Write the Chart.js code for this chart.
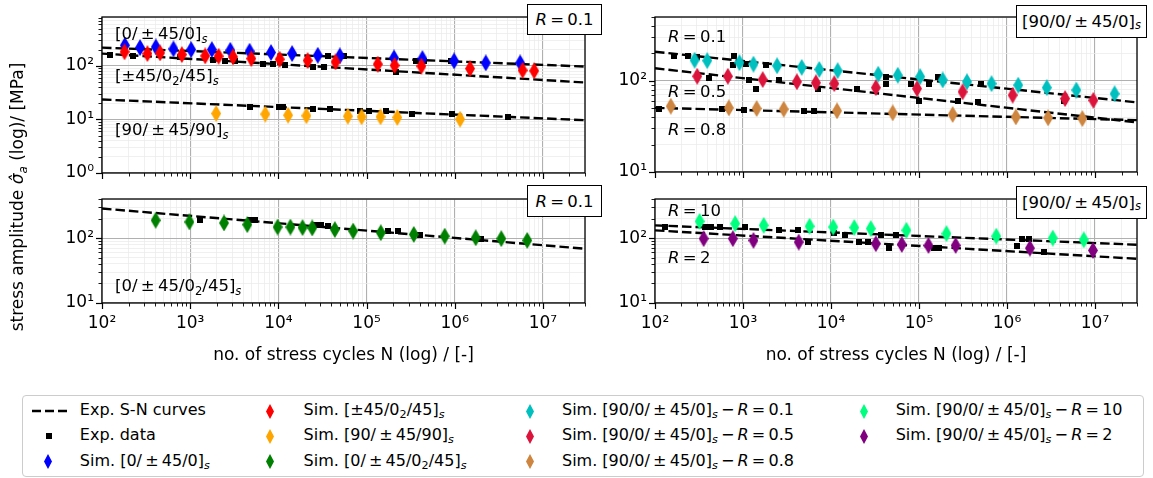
<!DOCTYPE html>
<html>
<head>
<meta charset="utf-8">
<script src="https://cdn.jsdelivr.net/npm/chart.js@4.4.0/dist/chart.umd.min.js"></script>
<style>
  body { margin:0; width:1153px; height:478px; position:relative; overflow:hidden; background:#fff; font-family:'DejaVu Sans', sans-serif; color:#000; }
  canvas { position:absolute; }
  .txt { position:absolute; white-space:nowrap; line-height:20px; font-size:16.5px; z-index:2; }
  .ax { font-size:17px; text-align:center; }
  .box { position:absolute; box-sizing:border-box; background:#fff; border:1.3px solid #000; z-index:3;
         display:flex; align-items:center; justify-content:center; font-size:16.5px; white-space:nowrap; }
  sub { font-size:0.7em; vertical-align:baseline; position:relative; top:0.3em; line-height:0; }
  #legend { position:absolute; left:22px; top:395px; width:1122px; height:82px; box-sizing:border-box;
            border:1px solid #cccccc; border-radius:4px; background:#fff; z-index:2; }
  #legend .it { position:absolute; white-space:nowrap; font-size:16px; line-height:20px; }
  #legend svg { position:absolute; overflow:visible; }
</style>
</head>
<body>
<canvas id="tl" width="600" height="185" style="left:0;top:0;width:600px;height:185px"></canvas>
<canvas id="tr" width="553" height="185" style="left:600px;top:0;width:553px;height:185px"></canvas>
<canvas id="bl" width="600" height="165" style="left:0;top:185px;width:600px;height:165px"></canvas>
<canvas id="br" width="553" height="165" style="left:600px;top:185px;width:553px;height:165px"></canvas>
<div id="legend"></div>
<script>
// ---- data (N = cycles, S = stress amplitude in MPa) ----
const curveN = [1e2, 3e7];

// top left, R = 0.1
const tlCurveA = [220, 97.5];   // [0/±45/0]s
const tlCurveB = [170, 49];     // [±45/0_2/45]s
const tlCurveC = [23.6, 9.7];   // [90/±45/90]s
const tlExp = [[123,158],[223,156],[764,147],[1820,129],[2475,124],[3220,124],[6760,108],[8780,108],[11900,104],
  [25000,96],[32500,96],[37000,156],[54800,152],[214000,77],[360000,124],[448000,124],[900000,124],
  [4800,17.2],[10070,17.2],[11200,17.2],[24600,15.8],[39000,15.7],[84000,14.3],[106000,14.3],[164000,14.3],
  [330000,12.4],[940000,12.4],[3970000,11.2]];
const tlBlue = [[182,243],[270,220],[408,226],[646,208],[1025,202],[1760,202],[2850,196],[4720,188],[8260,178],
  [14300,170],[28000,158],[49800,154],[205000,141],[430000,137],[983000,124],[2250000,114],[5520000,114]];
const tlRed = [[180,183],[327,170],[456,175],[804,163],[1480,154],[2100,152],[3060,147],[4930,137],[10350,133],
  [21500,126],[44500,119],[134000,108],[208000,102],[419000,99],[1490000,89],[5880000,83],[7960000,81]];
const tlOrange = [[1970,12.9],[7110,12.6],[12900,12.0],[20800,11.7],[61400,11.5],[87800,11.2],[144000,11.2],
  [223000,10.9],[1150000,10.1]];

// top right, [90/0/±45/0]s
const trCurve01 = [208, 58];
const trCurve05 = [137, 35];
const trCurve08 = [50.5, 37];
const trExp = [[110,49.6],[164,186],[236,186],[302,184],[410,106],[575,49.6],[787,186],[766,148],[1020,47.5],
  [1085,152],[1185,103],[1410,82],[1830,148],[2590,103],[4980,46.8],[6470,46.8],[7050,82],[20000,82],
  [42400,109],[42400,93],[81300,93],[101000,60],[131000,93],[163000,109],[275000,60],[463000,58.7],
  [506000,93],[4500000,60]];
const trCyan = [[282,168],[392,166],[912,158],[1315,152],[2440,146],[4650,140],[7360,133],[11900,129],[34400,118],
  [57400,115],[103000,111],[186000,102],[351000,97.5],[667000,93],[1340000,89.5],[2830000,84],[6140000,79],[16700000,72]];
const trCrimson = [[302,112],[673,112],[1675,103],[4100,97.5],[6740,95],[10900,93],[32300,84],[95000,82],
  [313000,75.6],[1160000,69.5],[4570000,63.8],[9570000,61]];
const trPeru = [[151,52.6],[690,50.5],[1430,49.6],[2900,48.8],[11700,46.8],[50300,44.5],[241000,42.7],
  [1260000,40.2],[2930000,39.2],[7180000,38.5]];

// bottom left, [0/±45/0_2/45]s
const blCurve = [285, 68.5];
const blExp = [[1290,193],[4760,188],[5430,188],[25900,157],[30800,157],[36700,154],[176000,128],[228000,128],
  [402000,110],[2000000,95.5]];
const blGreen = [[406,188],[980,177],[2420,171],[4440,161],[9800,148],[13700,148],[18800,145],[24200,143],
  [43700,135],[70500,128],[145000,121],[343000,114],[770000,107],[1730000,101],[3370000,98],[6640000,92]];

// bottom right, [90/0/±45/0]s, R = 10 and R = 2
const brCurve10 = [157, 79];
const brCurve2 = [131.5, 48];
const brExp = [[129,148],[372,148],[435,148],[541,148],[1040,148],[2590,131],[4180,131],[5430,86.7],[10900,121],
  [14400,113],[20900,86.7],[26000,86.7],[36800,110],[45800,71],[54500,110],[148000,71],[169000,71],
  [1490000,98],[1770000,98],[1310000,75],[2620000,60.7]];
const brSpring = [[321,181],[815,167],[1720,157],[5710,152],[10600,148],[18400,145],[28300,140],[71900,132],
  [205000,117],[755000,107],[3310000,100],[7450000,94]];
const brPurple = [[357,98],[766,98],[1315,92],[4300,86.7],[32300,81.8],[63700,79.8],[128000,77],[261000,77],
  [1820000,70],[9480000,64.6]];

// ---- helpers ----
const FONT = 'DejaVu Sans';
const SUP = {'0':'⁰','1':'¹','2':'²','3':'³','4':'⁴','5':'⁵','6':'⁶','7':'⁷','8':'⁸','9':'⁹'};
const isDecade = v => Math.abs(Math.log10(v) - Math.round(Math.log10(v))) < 1e-6;
function decadeLabel(v) {
  if (!isDecade(v)) return '';
  return '10' + String(Math.round(Math.log10(v))).split('').map(c => SUP[c]).join('');
}
function logTicks(min, max) {
  const out = [];
  for (let e = Math.floor(Math.log10(min)); e <= Math.ceil(Math.log10(max)); e++) {
    for (let m = 1; m < 10; m++) {
      const v = m * Math.pow(10, e);
      if (v >= min * 0.999 && v <= max * 1.001) out.push({value: v});
    }
  }
  return out;
}
const pts = pairs => pairs.map(p => ({x: p[0], y: p[1]}));
const curvePts = vals => curveN.map((n, i) => ({x: n, y: vals[i]}));

function diamond(color, w, h) {
  const c = document.createElement('canvas');
  c.width = w; c.height = h;
  const g = c.getContext('2d');
  g.beginPath();
  g.moveTo(w/2, 0); g.lineTo(w, h/2); g.lineTo(w/2, h); g.lineTo(0, h/2);
  g.closePath();
  g.fillStyle = color; g.fill();
  return c;
}
const SQ = (() => {
  const c = document.createElement('canvas');
  c.width = 6; c.height = 6;
  const g = c.getContext('2d'); g.fillStyle = '#000'; g.fillRect(0, 0, 6, 6);
  return c;
})();

const simSet = (pairs, color, order) => ({data: pts(pairs), pointStyle: diamond(color, 10, 17), pointRadius: 8, showLine: false, order});
const expSet = pairs => ({data: pts(pairs), pointStyle: SQ, pointRadius: 4, showLine: false, order: 5});
const curveSet = vals => ({data: curvePts(vals), showLine: true, borderColor: '#000', borderWidth: 2.4,
  borderDash: [9.5, 4], pointRadius: 0, fill: false, order: 10});

// frame + outward ticks (long on decades, short on minors)
const framePlugin = {
  id: 'frame',
  afterDraw(chart) {
    const {ctx, chartArea: a, scales} = chart;
    ctx.save();
    ctx.strokeStyle = '#000';
    scales.x.ticks.forEach(t => {
      const p = Math.round(scales.x.getPixelForValue(t.value)) + 0.5;
      const major = isDecade(t.value);
      ctx.lineWidth = major ? 1.2 : 0.9;
      ctx.beginPath(); ctx.moveTo(p, a.bottom); ctx.lineTo(p, a.bottom + (major ? 6 : 3.5)); ctx.stroke();
    });
    scales.y.ticks.forEach(t => {
      const p = Math.round(scales.y.getPixelForValue(t.value)) + 0.5;
      const major = isDecade(t.value);
      ctx.lineWidth = major ? 1.2 : 0.9;
      ctx.beginPath(); ctx.moveTo(a.left, p); ctx.lineTo(a.left - (major ? 6 : 3.5), p); ctx.stroke();
    });
    ctx.lineWidth = 1.3;
    ctx.strokeRect(a.left, a.top, a.right - a.left, a.bottom - a.top);
    ctx.restore();
  }
};

function axis(min, max, size, showLabels, isX) {
  return {
    type: 'logarithmic', min, max,
    afterBuildTicks: s => { s.ticks = logTicks(min, max); },
    afterFit: s => {
      if (isX) s.height = size; else s.width = size;
      s.paddingLeft = s.paddingRight = s.paddingTop = s.paddingBottom = 0;
    },
    grid: {
      drawTicks: false,
      color: c => (c.tick && isDecade(c.tick.value)) ? '#b0b0b0' : '#ececec',
      lineWidth: c => (c.tick && isDecade(c.tick.value)) ? 1.1 : 0.8
    },
    border: {display: false},
    ticks: {
      display: showLabels, autoSkip: false, maxRotation: 0, minRotation: 0,
      padding: isX ? 10 : 8, color: '#000', font: {family: FONT, size: 17},
      callback: v => decadeLabel(v)
    }
  };
}

function panel(id, yMin, yMax, yAxisW, xAxisH, padTop, padRight, showX, datasets) {
  new Chart(document.getElementById(id), {
    type: 'scatter',
    data: {datasets},
    options: {
      responsive: false, animation: false, devicePixelRatio: 1,
      layout: {padding: {top: padTop, right: padRight, left: 0, bottom: 0}},
      plugins: {legend: {display: false}, tooltip: {enabled: false}},
      scales: {
        x: axis(curveN[0], curveN[1], xAxisH, showX, true),
        y: axis(yMin, yMax, yAxisW, true, false)
      }
    },
    plugins: [framePlugin]
  });
}

panel('tl', 1, 820, 102, 12, 17, 15, false, [
  simSet(tlRed, '#ff0000', 1), simSet(tlOrange, '#ffa500', 2), simSet(tlBlue, '#0000ff', 3),
  expSet(tlExp), curveSet(tlCurveA), curveSet(tlCurveB), curveSet(tlCurveC)
]);
panel('tr', 10, 500, 55, 13, 17, 16, false, [
  simSet(trPeru, '#cd853f', 1), simSet(trCrimson, '#dc143c', 2), simSet(trCyan, '#00bfbf', 3),
  expSet(trExp), curveSet(trCurve01), curveSet(trCurve05), curveSet(trCurve08)
]);
panel('bl', 10, 400, 102, 47, 14, 15, true, [
  simSet(blGreen, '#008000', 1), expSet(blExp), curveSet(blCurve)
]);
panel('br', 10, 400, 55, 47, 14, 16, true, [
  simSet(brPurple, '#800080', 1), simSet(brSpring, '#00ff7f', 2),
  expSet(brExp), curveSet(brCurve10), curveSet(brCurve2)
]);

// ---- text overlays ----
const T = '\u2009';
const lay = (a, b) => '[' + a + ']<sub><i>s</i></sub>' + (b || '');
function addText(html, x, baseline, cls, extraStyle) {
  const d = document.createElement('div');
  d.className = 'txt ' + (cls || '');
  d.innerHTML = html;
  d.style.left = x + 'px';
  d.style.top = (baseline - 15.8) + 'px';
  if (extraStyle) Object.assign(d.style, extraStyle);
  document.body.appendChild(d);
  return d;
}
function addBox(html, x, y, w, h) {
  const d = document.createElement('div');
  d.className = 'box';
  d.innerHTML = html;
  Object.assign(d.style, {left: x + 'px', top: y + 'px', width: w + 'px', height: h + 'px'});
  document.body.appendChild(d);
}
const rEq = v => '<i>R</i>' + T + '=' + T + v;

addText(lay('0/' + T + '±' + T + '45/0'), 115, 40);
addText(lay('±45/0<sub>2</sub>/45'), 115, 82);
addText(lay('90/' + T + '±' + T + '45/90'), 115, 136);
addText(lay('0/' + T + '±' + T + '45/0<sub>2</sub>/45'), 115, 292);
addText(rEq('0.1'), 668, 43);
addText(rEq('0.5'), 668, 98);
addText(rEq('0.8'), 668, 136);
addText(rEq('10'), 668, 216.5);
addText(rEq('2'), 668, 264);

addBox(rEq('0.1'), 527, 4, 75, 31);
addBox(rEq('0.1'), 527, 185, 75, 32);
addBox(lay('90/0/' + T + '±' + T + '45/0'), 1016, 5, 131, 33);
addBox(lay('90/0/' + T + '±' + T + '45/0'), 1016, 186, 131, 33);

addText('no. of stress cycles N (log) / [-]', 143.5, 359.5, 'ax', {width: '400px'});
addText('no. of stress cycles N (log) / [-]', 696, 359.5, 'ax', {width: '400px'});
const yl = addText('stress amplitude <i>σ̂</i><sub><i>a</i></sub> (log)/ [MPa]', -143, 203, 'ax',
  {width: '320px', transform: 'rotate(-90deg)', transformOrigin: '50% 50%'});

// ---- legend ----
const legColX = [47, 269, 529, 862.6];
const legTextX = [78.8, 302.6, 561, 894.7];
const legRowY = [410, 435, 460.5];
const simLab = v => 'Sim. ' + lay('90/0/' + T + '±' + T + '45/0') + T + '−' + T + rEq(v);
const legendItems = [
  {c: 0, r: 0, kind: 'dash', html: 'Exp. S-N curves'},
  {c: 0, r: 1, kind: 'square', html: 'Exp. data'},
  {c: 0, r: 2, kind: '#0000ff', html: 'Sim. ' + lay('0/' + T + '±' + T + '45/0')},
  {c: 1, r: 0, kind: '#ff0000', html: 'Sim. ' + lay('±45/0<sub>2</sub>/45')},
  {c: 1, r: 1, kind: '#ffa500', html: 'Sim. ' + lay('90/' + T + '±' + T + '45/90')},
  {c: 1, r: 2, kind: '#008000', html: 'Sim. ' + lay('0/' + T + '±' + T + '45/0<sub>2</sub>/45')},
  {c: 2, r: 0, kind: '#00bfbf', html: simLab('0.1')},
  {c: 2, r: 1, kind: '#dc143c', html: simLab('0.5')},
  {c: 2, r: 2, kind: '#cd853f', html: simLab('0.8')},
  {c: 3, r: 0, kind: '#00ff7f', html: simLab('10')},
  {c: 3, r: 1, kind: '#800080', html: simLab('2')}
];
const leg = document.getElementById('legend');
const NS = 'http://www.w3.org/2000/svg';
legendItems.forEach(it => {
  const cx = legColX[it.c] - 22, cy = legRowY[it.r] - 395;
  const svg = document.createElementNS(NS, 'svg');
  let shape;
  if (it.kind === 'dash') {
    svg.setAttribute('width', 36); svg.setAttribute('height', 6);
    svg.style.left = (31 - 22) + 'px'; svg.style.top = (cy - 3) + 'px';
    shape = document.createElementNS(NS, 'line');
    shape.setAttribute('x1', 0); shape.setAttribute('y1', 3); shape.setAttribute('x2', 35); shape.setAttribute('y2', 3);
    shape.setAttribute('stroke', '#000'); shape.setAttribute('stroke-width', 2.4);
    shape.setAttribute('stroke-dasharray', '9 4');
  } else if (it.kind === 'square') {
    svg.setAttribute('width', 6); svg.setAttribute('height', 6);
    svg.style.left = (cx + 1 - 3) + 'px'; svg.style.top = (cy - 3) + 'px';
    shape = document.createElementNS(NS, 'rect');
    shape.setAttribute('width', 6); shape.setAttribute('height', 6); shape.setAttribute('fill', '#000');
  } else {
    svg.setAttribute('width', 8); svg.setAttribute('height', 15);
    svg.style.left = (cx - 4) + 'px'; svg.style.top = (cy - 7.5) + 'px';
    shape = document.createElementNS(NS, 'polygon');
    shape.setAttribute('points', '4,0 8,7.5 4,15 0,7.5');
    shape.setAttribute('fill', it.kind);
  }
  svg.appendChild(shape);
  leg.appendChild(svg);
  const t = document.createElement('div');
  t.className = 'it';
  t.innerHTML = it.html;
  t.style.left = (legTextX[it.c] - 22) + 'px';
  t.style.top = (cy - 10 - 1) + 'px';
  leg.appendChild(t);
});
</script>
</body>
</html>
